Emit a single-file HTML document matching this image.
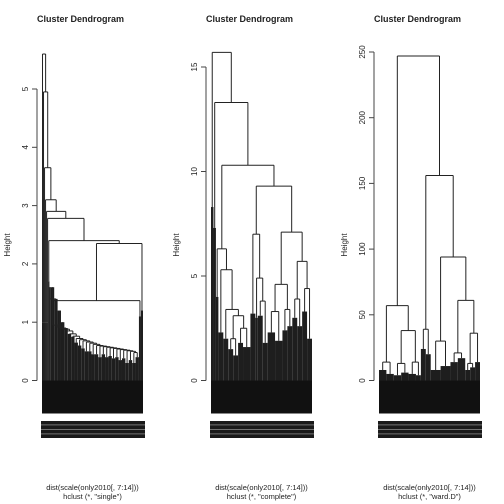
<!DOCTYPE html>
<html><head><meta charset="utf-8"><style>
html,body{margin:0;padding:0;background:#fff}
svg{display:block}
text{font-family:"Liberation Sans",sans-serif;fill:#222}
</style></head><body>
<svg id="chart" width="504" height="504" viewBox="0 0 504 504"></svg>
<script>
// ---- data ----
const panelTitles = ["Cluster Dendrogram","Cluster Dendrogram","Cluster Dendrogram"];
const panelMethods = ['hclust (*, "single")','hclust (*, "complete")','hclust (*, "ward.D")'];
const yTicks1 = [0,1,2,3,4,5];
const yTicks2 = [0,5,10,15];
const yTicks3 = [0,50,100,150,200,250];
// single linkage: top chain merge heights, staircase heights and bush heights
const chainHeights = [5.6, 4.95, 3.65, 3.1, 2.9, 2.78];
const stairHeights = [0.95,0.92,0.9,0.88,0.85,0.8,0.76,0.72,0.7,0.68,0.66,0.64,0.62,0.6,0.59,0.58,0.57,0.56,0.55,0.54,0.53,0.52,0.51,0.5,0.48];
const stairBush = [1.6,1.4,1.2,1.0,0.9,0.8,0.75,0.65,0.6,0.55,0.5,0.5,0.45,0.45,0.4,0.45,0.4,0.42,0.38,0.4,0.35,0.38,0.3,0.35,0.3];
// complete & ward trees: node = {h, c:[..]}, leaf = [weight, bushHeight]
const completeTree = {h:15.7,c:[[1,8.3],{h:13.3,c:[[1,7.3],{h:10.3,c:[
  {h:6.3,c:[[1,4],{h:5.3,c:[[2,2.3],{h:3.4,c:[[2,2],{h:3.1,c:[{h:2.0,c:[[2,1.5],[2,1.2]]},{h:2.5,c:[[2,1.8],[3,1.6]]}]}]}]}]},
  {h:9.3,c:[
    {h:7.0,c:[[2,3.2],{h:4.9,c:[[1,3.0],{h:3.8,c:[[2,3.1],[2,1.8]]}]}]},
    {h:7.1,c:[
      {h:4.6,c:[{h:3.3,c:[[3,2.3],[3,1.9]]},{h:3.4,c:[[2,2.4],[2,2.6]]}]},
      {h:5.7,c:[{h:3.9,c:[[2,3.0],[2,2.6]]},{h:4.4,c:[[2,3.3],[2,2.0]]}]}]}]}]}]}]};
const wardTree = {h:247,c:[
  {h:57,c:[{h:14,c:[[3,8],[3,5]]},{h:38,c:[{h:13,c:[[3,4],[3,6]]},{h:14,c:[[3,5],[2,4]]}]}]},
  {h:156,c:[{h:39,c:[[2,24],[2,20]]},{h:94,c:[{h:30,c:[[4,8],[4,11]]},{h:61,c:[{h:21,c:[[3,14],[3,17]]},{h:36,c:[{h:13,c:[[2,8],[2,10]]},[2,14]]}]}]}]}]};

// ---- build single linkage tree from arrays ----
function buildSingle(){
  let stair = [1,0.4];
  for(let i=stairHeights.length-1;i>=0;i--){
    stair = {h:stairHeights[i],c:[[1,stairBush[i]],stair]};
  }
  let mid = {h:1.37,c:[{h:1.4,c:[[0.4,1.6],stair]},[0.6,1.1]]};
  let big = {h:2.35,c:[mid,[0.6,1.2]]};
  let g = {h:2.4,c:[[0.4,1.7],big]};
  let t = g;
  for(let i=chainHeights.length-1;i>=0;i--){ t = {h:chainHeights[i],c:[[0.3,1.0],t]}; }
  return t;
}
const singleTree = buildSingle();

const svg = document.getElementById('chart');
const NS = 'http://www.w3.org/2000/svg';
function el(tag, attrs, parent){
  const e = document.createElementNS(NS, tag);
  for(const k in attrs) e.setAttribute(k, attrs[k]);
  (parent||svg).appendChild(e);
  return e;
}
function totalW(n){ return Array.isArray(n) ? n[0] : n.c.reduce((s,c)=>s+totalW(c),0); }

const panels = [
  {tree:singleTree, ticks:yTicks1, axisX:37, x0:42, x1:143},
  {tree:completeTree, ticks:yTicks2, axisX:206, x0:211, x1:312},
  {tree:wardTree, ticks:yTicks3, axisX:374, x0:379, x1:480}
];
const y0px = 380.5, yTopRef = [89,67,52], tickRef = [5,15,250];

panels.forEach((p,i)=>{
  const g = el('g',{});
  
  
  const scale = (y0px - yTopRef[i]) / tickRef[i];
  const Y = v => y0px - v*scale;
  const cx = (p.x0+p.x1)/2;
  const t = el('text',{x:cx-12,y:22,'font-size':9,'font-weight':'bold','text-anchor':'middle'},g);
  t.textContent = panelTitles[i];
  
  
  const ax = el('g',{},g);
  
  
  el('line',{x1:p.axisX,x2:p.axisX,y1:Y(p.ticks[0]),y2:Y(p.ticks[p.ticks.length-1]),stroke:'#444','stroke-width':1},ax);
  p.ticks.forEach(v=>{
    el('line',{x1:p.axisX-5,x2:p.axisX,y1:Y(v),y2:Y(v),stroke:'#444'},ax);
    const tl = el('text',{x:0,y:0,'font-size':8,'text-anchor':'middle',transform:`translate(${p.axisX-9},${Y(v)}) rotate(-90)`},ax);
    tl.textContent = v;
    
    
  });
  const yl = el('text',{x:0,y:0,'font-size':8,'text-anchor':'middle',transform:`translate(${p.axisX-27},245) rotate(-90)`},g);
  yl.textContent = 'Height';
  
  
  const band = el('rect',{x:p.x0,y:y0px,width:p.x1-p.x0,height:33,fill:'#111'},g);
  
  
  const lb = el('rect',{x:p.x0-1,y:421,width:p.x1-p.x0+3,height:17,fill:'#1a1a1a'},g);
  
  
  for(let r=0;r<3;r++){
    el('rect',{x:p.x0-1,y:424.5+r*4.5,width:p.x1-p.x0+3,height:0.8,fill:'#888'},g);
  }
  const tg = el('g',{},g);
  
  
  const W = totalW(p.tree);
  const px = (p.x1-p.x0)/W;
  let cursor = 0;
  function draw(n){
    if(Array.isArray(n)){
      const xl = p.x0 + cursor*px;
      cursor += n[0];
      el('rect',{x:xl,y:Y(n[1]),width:n[0]*px,height:y0px-Y(n[1]),fill:'#1e1e1e'},tg);
      return {x:xl+n[0]*px/2, h:n[1]};
    }
    const r = n.c.map(draw);
    r.forEach(c=>el('line',{x1:c.x,x2:c.x,y1:Y(c.h),y2:Y(n.h),stroke:'#222','stroke-width':1},tg));
    el('line',{x1:r[0].x,x2:r[r.length-1].x,y1:Y(n.h),y2:Y(n.h),stroke:'#222','stroke-width':1},tg);
    return {x:(r[0].x+r[r.length-1].x)/2, h:n.h};
  }
  draw(p.tree);
  const xl1 = el('text',{x:cx,y:490,'font-size':7.5,'text-anchor':'middle'},g);
  xl1.textContent = 'dist(scale(only2010[, 7:14]))';
  
  
  const xl2 = el('text',{x:cx,y:499,'font-size':7.5,'text-anchor':'middle'},g);
  xl2.textContent = panelMethods[i];
  
  
});
</script>
</body></html>
